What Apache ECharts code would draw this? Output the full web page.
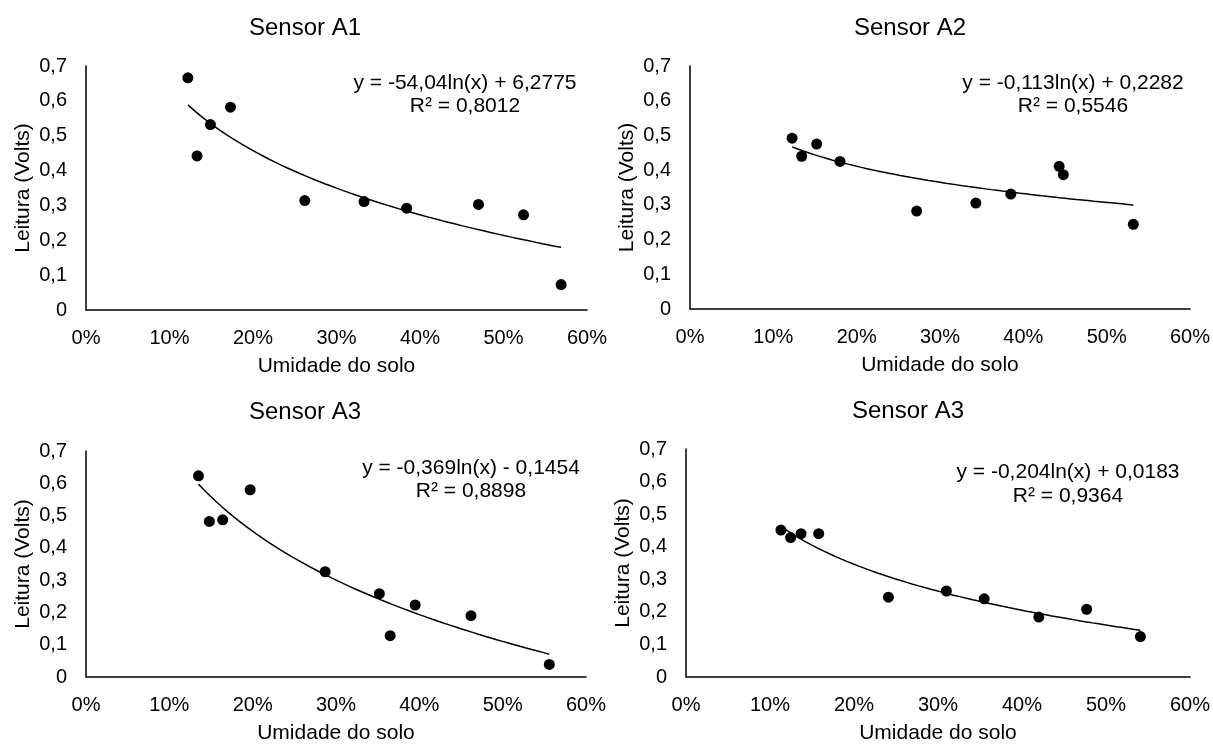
<!DOCTYPE html>
<html>
<head>
<meta charset="utf-8">
<script src="https://cdn.jsdelivr.net/npm/echarts@6/dist/echarts.min.js"></script>
<style>
  html, body { margin: 0; padding: 0; background: #fff; }
  #chart { width: 1213px; height: 745px; }
</style>
</head>
<body>
<div id="chart"></div>
<script>
// leituras (x = umidade do solo em %, y = leitura em volts)
var a1X = [12.2, 13.3, 14.9, 17.3, 26.2, 33.3, 38.4, 47.0, 52.4, 56.9];
var a1Y = [0.666, 0.442, 0.532, 0.582, 0.314, 0.311, 0.292, 0.303, 0.273, 0.073];
var a2X = [12.25, 13.4, 15.2, 18.0, 27.2, 34.3, 38.5, 44.3, 44.8, 53.2];
var a2Y = [0.492, 0.440, 0.475, 0.425, 0.282, 0.305, 0.331, 0.411, 0.387, 0.244];
var a3X = [13.5, 14.8, 16.4, 19.7, 28.7, 35.2, 36.5, 39.5, 46.2, 55.6];
var a3Y = [0.623, 0.482, 0.487, 0.580, 0.326, 0.258, 0.128, 0.223, 0.190, 0.039];
var a4X = [11.3, 12.45, 13.7, 15.8, 24.1, 31.0, 35.5, 42.0, 47.7, 54.1];
var a4Y = [0.451, 0.428, 0.440, 0.440, 0.245, 0.264, 0.240, 0.184, 0.208, 0.124];

var titles = ['Sensor A1', 'Sensor A2', 'Sensor A3', 'Sensor A3'];
var equations = [
  'y = -54,04ln(x) + 6,2775',
  'y = -0,113ln(x) + 0,2282',
  'y = -0,369ln(x) - 0,1454',
  'y = -0,204ln(x) + 0,0183'
];
var r2 = ['R² = 0,8012', 'R² = 0,5546', 'R² = 0,8898', 'R² = 0,9364'];

var xTicks = [0, 10, 20, 30, 40, 50, 60];
var yTicks = [0, 0.1, 0.2, 0.3, 0.4, 0.5, 0.6, 0.7];

var FONT = 'Liberation Sans, Arial, sans-serif';

// layout of each panel: grid box, title center, equation center
var panels = [
  { grid: [86, 66, 501, 244], title: [305, 28], eq: [465, 83, 106] },
  { grid: [690, 66, 500, 243], title: [910, 28], eq: [1073, 83, 106] },
  { grid: [86, 451, 500, 230], title: [305, 412], eq: [471, 468, 491] },
  { grid: [686, 449, 505, 232], title: [908, 411], eq: [1068, 472, 496] }
];

var dataX = [a1X, a2X, a3X, a4X];
var dataY = [a1Y, a2Y, a3Y, a4Y];

// linha de tendência logarítmica (mínimos quadrados, como no Excel)
function logFit(xs, ys) {
  var n = xs.length, sx = 0, sy = 0, sxx = 0, sxy = 0;
  for (var i = 0; i < n; i++) {
    var lx = Math.log(xs[i] / 100);
    sx += lx; sy += ys[i]; sxx += lx * lx; sxy += lx * ys[i];
  }
  var a = (n * sxy - sx * sy) / (n * sxx - sx * sx);
  var b = (sy - a * sx) / n;
  var lo = Math.min.apply(null, xs), hi = Math.max.apply(null, xs);
  var pts = [];
  for (var k = 0; k <= 60; k++) {
    var x = lo + (hi - lo) * k / 60;
    pts.push([x, a * Math.log(x / 100) + b]);
  }
  return pts;
}

var grids = [], xAxes = [], yAxes = [], series = [], graphics = [];

panels.forEach(function (p, i) {
  grids.push({ left: p.grid[0], top: p.grid[1], width: p.grid[2], height: p.grid[3] });
  xAxes.push({
    type: 'value', gridIndex: i, min: 0, max: 60, interval: 10,
    name: 'Umidade do solo', nameLocation: 'middle', nameGap: 46,
    nameTextStyle: { fontFamily: FONT, fontSize: 21, color: '#000' },
    axisLine: { show: true, onZero: false, lineStyle: { color: '#000', width: 1.5 } },
    axisTick: { show: false },
    splitLine: { show: false },
    axisLabel: { fontFamily: FONT, fontSize: 20, color: '#000', margin: 18,
      formatter: function (v) { return v + '%'; } }
  });
  yAxes.push({
    type: 'value', gridIndex: i, min: 0, max: 0.7, interval: 0.1,
    name: 'Leitura (Volts)', nameLocation: 'middle', nameGap: 52,
    nameTextStyle: { fontFamily: FONT, fontSize: 21, color: '#000' },
    axisLine: { show: true, onZero: false, lineStyle: { color: '#000', width: 1.5 } },
    axisTick: { show: false },
    splitLine: { show: false },
    axisLabel: { fontFamily: FONT, fontSize: 20, color: '#000', margin: 19,
      formatter: function (v) { return v === 0 ? '0' : v.toFixed(1).replace('.', ','); } }
  });
  series.push({
    type: 'line', xAxisIndex: i, yAxisIndex: i,
    data: logFit(dataX[i], dataY[i]),
    showSymbol: false, smooth: false,
    lineStyle: { color: '#000', width: 1.5 },
    silent: true, z: 2
  });
  series.push({
    type: 'scatter', xAxisIndex: i, yAxisIndex: i,
    data: dataX[i].map(function (x, k) { return [x, dataY[i][k]]; }),
    symbol: 'circle', symbolSize: 11,
    itemStyle: { color: '#000', opacity: 1 }, z: 3
  });
  graphics.push({
    type: 'text', x: p.title[0], y: p.title[1],
    style: { text: titles[i], fontFamily: FONT, fontSize: 24, fill: '#000',
      align: 'center', verticalAlign: 'middle' }
  });
  graphics.push({
    type: 'text', x: p.eq[0], y: p.eq[1],
    style: { text: equations[i], fontFamily: FONT, fontSize: 21, fill: '#000',
      align: 'center', verticalAlign: 'middle' }
  });
  graphics.push({
    type: 'text', x: p.eq[0], y: p.eq[2],
    style: { text: r2[i], fontFamily: FONT, fontSize: 21, fill: '#000',
      align: 'center', verticalAlign: 'middle' }
  });
});

var chart = echarts.init(document.getElementById('chart'), null, { renderer: 'canvas' });
chart.setOption({
  backgroundColor: '#fff',
  animation: false,
  grid: grids,
  xAxis: xAxes,
  yAxis: yAxes,
  series: series,
  graphic: graphics
});
</script>
</body>
</html>
